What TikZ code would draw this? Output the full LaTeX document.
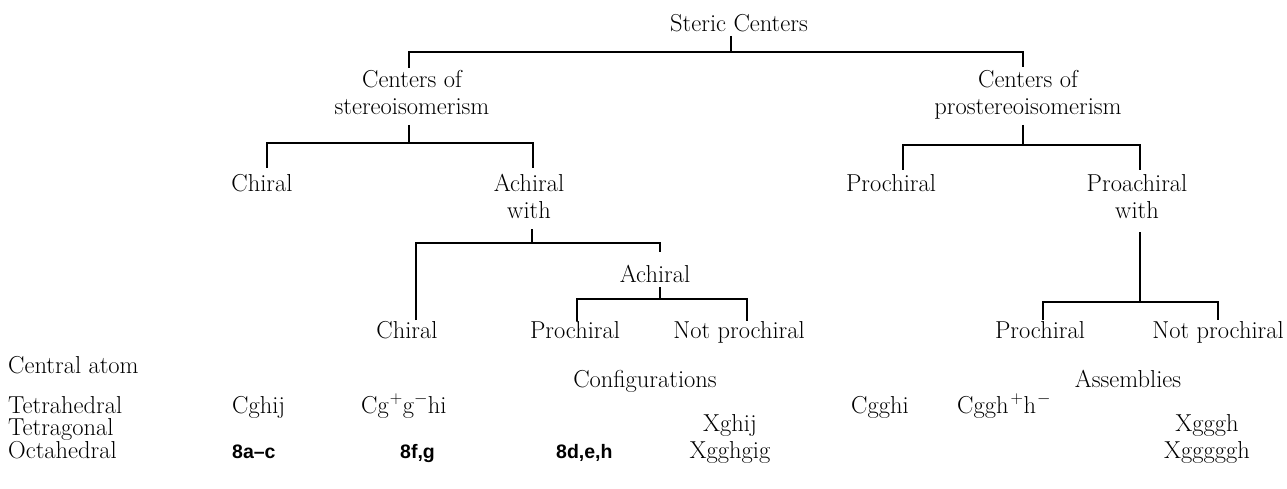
\documentclass[tikz,border=0pt]{standalone}
\usepackage{fontspec}
\newfontfamily\cpdsans{Liberation Sans}
\newcommand\stackedlabel[2]{\begin{tabular}[t]{@{}c@{}}#1\\#2\end{tabular}}
\begin{document}
\begin{tikzpicture}[x=1pt,y=-1pt,
  lab/.style={anchor=base,inner sep=0pt,font=\fontsize{24.5}{27}\selectfont},
  labl/.style={lab,anchor=base west},
  cpd/.style={anchor=base west,inner sep=0pt,font=\fontsize{19.5}{23}\cpdsans\bfseries},
  br/.style={line width=1.6pt,line cap=butt}]
\useasboundingbox (0,0) rectangle (1287,489);

% ---- classification tree ----
\node[lab] (sc) at (739,32) {Steric Centers};
\node[lab] (cs) at (412,88) {\stackedlabel{Centers of}{stereoisomerism}};
\node[lab] (cp) at (1028,88) {\stackedlabel{Centers of}{prostereoisomerism}};
\node[lab] (ch1) at (262,192) {Chiral};
\node[lab] (ach1) at (529,192) {\stackedlabel{Achiral}{with}};
\node[lab] (prc1) at (891,192) {Prochiral};
\node[lab] (proach) at (1137,192) {\stackedlabel{Proachiral}{with}};
\node[lab] (ach2) at (655,282) {Achiral};
\node[lab] (ch2) at (407,338) {Chiral};
\node[lab] (prc2) at (575,338) {Prochiral};
\node[lab] (npc2) at (739,338) {Not prochiral};
\node[lab] (prc3) at (1040,338) {Prochiral};
\node[lab] (npc3) at (1218,338) {Not prochiral};

% bracket junctions
\coordinate (sc-t) at (731,36);  \coordinate (sc-j) at (731,52);
\coordinate (cs-d) at (409,68);  \coordinate (cp-d) at (1023,67);
\coordinate (cs-t) at (409,125); \coordinate (cs-j) at (409,143);
\coordinate (ch1-d) at (267,168); \coordinate (ach1-d) at (533,168);
\coordinate (cp-t) at (1023,125); \coordinate (cp-j) at (1023,145);
\coordinate (prc1-d) at (903,170); \coordinate (proach-d) at (1140,170);
\coordinate (ach1-t) at (532,229); \coordinate (ach1-j) at (532,243);
\coordinate (ch2-d) at (416,320); \coordinate (ach2-d) at (660,252);
\coordinate (ach2-t) at (660,287); \coordinate (ach2-j) at (660,299);
\coordinate (prc2-d) at (577,321); \coordinate (npc2-d) at (747,321);
\coordinate (proach-t) at (1140,232); \coordinate (proach-j) at (1140,302);
\coordinate (prc3-d) at (1043,320); \coordinate (npc3-d) at (1218,320);

\draw[br] (sc-t) -- (sc-j);
\draw[br] (cs-d) |- (sc-j) -| (cp-d);
\draw[br] (cs-t) -- (cs-j);
\draw[br] (ch1-d) |- (cs-j) -| (ach1-d);
\draw[br] (cp-t) -- (cp-j);
\draw[br] (prc1-d) |- (cp-j) -| (proach-d);
\draw[br] (ach1-t) -- (ach1-j);
\draw[br] (ch2-d) |- (ach1-j) -| (ach2-d);
\draw[br] (ach2-t) -- (ach2-j);
\draw[br] (prc2-d) |- (ach2-j) -| (npc2-d);
\draw[br] (proach-t) -- (proach-j);
\draw[br] (prc3-d) |- (proach-j) -| (npc3-d);

% ---- examples table ----
\node[labl] (ca) at (8,373) {Central atom};
\node[lab] (conf) at (645,387) {Configurations};
\node[lab] (asm) at (1128,387) {Assemblies};
\node[labl] (tetrah) at (8,413) {Tetrahedral};
\node[labl] (tetrag) at (8,435) {Tetragonal};
\node[labl] (octa) at (8,458) {Octahedral};

\node[labl] (e11) at (232,413) {Cghij};
\node[labl] (e12) at (361,413) {Cg\kern1pt$^{+}$g$^{-}$hi};
\node[labl] (e15) at (851,413) {Cgghi};
\node[labl] (e16) at (957,413) {Cggh\kern2pt$^{+}$h\kern1pt$^{-}$};
\node[lab] (e24) at (730,431) {Xghij};
\node[lab] (e27) at (1207,431) {Xgggh};
\node[cpd] (e31) at (232,458) {8a–c};
\node[cpd] (e32) at (400,458) {8f,g};
\node[cpd] (e33) at (556,458) {8d,e,h};
\node[lab] (e34) at (730,458) {Xgghgig};
\node[lab] (e37) at (1207,458) {Xgggggh};
\end{tikzpicture}
\end{document}
